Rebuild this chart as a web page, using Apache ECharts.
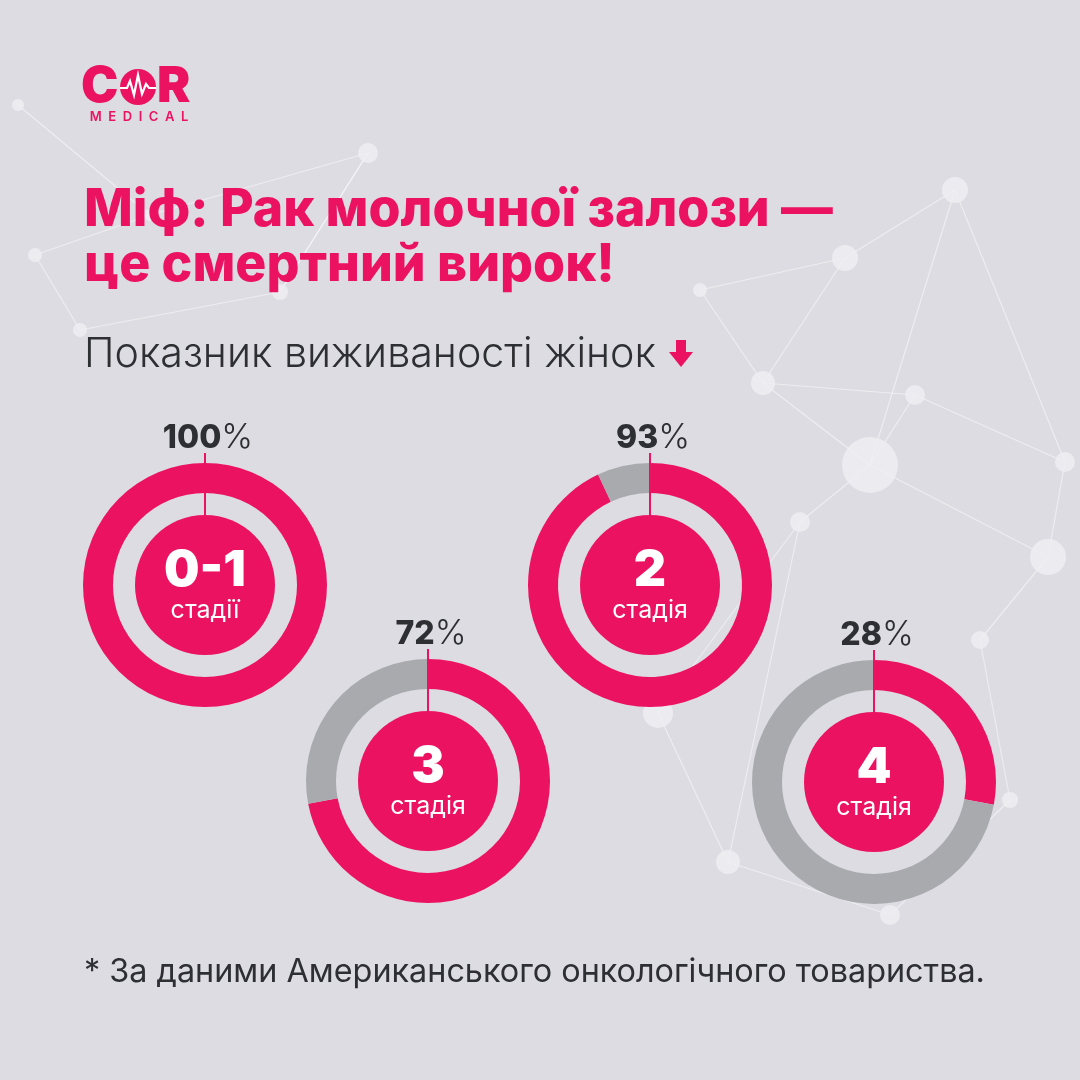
<!DOCTYPE html>
<html>
<head>
<meta charset="utf-8">
<script src="https://cdn.jsdelivr.net/npm/echarts@6/dist/echarts.min.js"></script>
<style>
html,body{margin:0;padding:0;background:#dcdce2;}
#chart{width:1080px;height:1080px;}
</style>
</head>
<body>
<div id="chart"></div>
<script>
// ---- data ----
var stages = ['0-1', '2', '3', '4'];
var stageWords = ['стадії', 'стадія', 'стадія', 'стадія'];
var survival = [100, 93, 72, 28];
var titleLines = ['Міф: Рак молочної залози —', 'це смертний вирок!'];
var subtitleText = 'Показник виживаності жінок';
var footnoteText = '* За даними Американського онкологічного товариства.';

// ---- layout / style ----
var centers = [[205, 585], [650, 585], [428, 781], [874, 782]];
var PINK = '#ec1262';
var GRAY = '#a9aaae';
var DARK = '#2e2f33';
var BG = '#dcdce2';
var FONT = 'Inter, "Noto Sans", sans-serif';

function fitSize(text, weight, family, target) {
  var c = document.createElement('canvas').getContext('2d');
  c.font = weight + ' 100px ' + family;
  var w = c.measureText(text).width;
  return 100 * target / w;
}

var chart = echarts.init(document.getElementById('chart'));

var series = [];
var graphics = [];

// background network decoration
var nodes = [[368,153,10],[955,190,13],[845,258,13],[763,383,12],[915,395,10],[870,465,28],[1048,557,18],[800,522,10],[1065,462,10],[658,713,15],[728,862,12],[890,915,10],[18,105,6],[80,330,7],[280,292,8],[150,215,6],[35,255,7],[980,640,9],[1010,800,8],[700,290,7]];
var links = [[0,14],[0,15],[15,12],[15,16],[16,13],[13,14],[14,0],[1,2],[2,3],[3,4],[4,5],[5,1],[3,5],[5,7],[7,9],[5,6],[6,8],[8,4],[6,17],[17,18],[9,10],[10,11],[11,18],[3,19],[19,2],[7,10],[1,8]];
links.forEach(function (l) {
  var a = nodes[l[0]], b = nodes[l[1]];
  graphics.push({type:'line', silent:true, z:-10, shape:{x1:a[0],y1:a[1],x2:b[0],y2:b[1]}, style:{stroke:'rgba(255,255,255,0.5)', lineWidth:1.2}});
});
nodes.forEach(function (n) {
  graphics.push({type:'circle', silent:true, z:-9, shape:{cx:n[0],cy:n[1],r:n[2]}, style:{fill:'rgba(238,238,242,0.85)'}});
});

stages.forEach(function (s, i) {
  var c = centers[i];
  series.push({
    type: 'pie', silent: true, center: c, radius: [92, 122], startAngle: 90, clockwise: true,
    label: {show: false}, labelLine: {show: false}, z: 2,
    data: [
      {value: survival[i], itemStyle: {color: PINK}},
      {value: 100 - survival[i], itemStyle: {color: GRAY}}
    ]
  });
  series.push({
    type: 'pie', silent: true, center: c, radius: [0, 70], z: 3,
    labelLine: {show: false},
    label: {
      show: true, position: 'center',
      formatter: '{a|' + s + '}\n{b|' + stageWords[i] + '}',
      rich: {
        a: {fontFamily: FONT, fontWeight: 900, fontSize: 50, color: '#fff', lineHeight: 50, padding:[6,0,0,0]},
        b: {fontFamily: FONT, fontWeight: 400, fontSize: 25, color: '#fff', lineHeight: 34}
      }
    },
    data: [{value: 1, itemStyle: {color: PINK}}]
  });
  graphics.push({type:'line', silent:true, z:20, shape:{x1:c[0], y1:c[1]-132, x2:c[0], y2:c[1]-69}, style:{stroke:PINK, lineWidth:2}});
  graphics.push({type:'text', silent:true, z:20, x:c[0] + 3, y:c[1]-147, style:{
    text: '{n|' + survival[i] + '}{p|%}', align:'center', verticalAlign:'middle',
    rich: {n:{fontFamily:FONT, fontWeight:800, fontSize:32, fill:DARK}, p:{fontFamily:FONT, fontWeight:300, fontSize:34, fill:DARK}}
  }});
});

// title
var tSize = fitSize(titleLines[0], 800, FONT, 749);
graphics.push({type:'text', x:84, y:210, style:{text:titleLines[0], fill:PINK, font:'800 ' + tSize + 'px ' + FONT, verticalAlign:'middle'}});
graphics.push({type:'text', x:84, y:265, style:{text:titleLines[1], fill:PINK, font:'800 ' + tSize + 'px ' + FONT, verticalAlign:'middle'}});
// subtitle
var sSize = fitSize(subtitleText, 300, FONT, 572);
graphics.push({type:'text', x:84, y:355, style:{text:subtitleText, fill:DARK, font:'300 ' + sSize + 'px ' + FONT, verticalAlign:'middle'}});
// arrow
graphics.push({type:'rect', shape:{x:676, y:340, width:10, height:14}, style:{fill:PINK}});
graphics.push({type:'polygon', shape:{points:[[669,352],[693,352],[681,367]]}, style:{fill:PINK}});
// footnote
var fSize = fitSize(footnoteText, 400, FONT, 901);
graphics.push({type:'text', x:84, y:972, style:{text:footnoteText, fill:DARK, font:'400 ' + fSize + 'px ' + FONT, verticalAlign:'middle'}});

// logo
graphics.push({type:'text', x:81, y:87, style:{text:'C', fill:PINK, font:'900 50px ' + FONT, verticalAlign:'middle'}});
graphics.push({type:'circle', shape:{cx:138, cy:87, r:18}, style:{fill:PINK}});
graphics.push({type:'polyline', shape:{points:[[120,88],[127,88],[130,81],[134,95],[138,75],[142,94],[146,84],[149,88],[156,88]]}, style:{stroke:'#fff', lineWidth:2.2, fill:null}});
graphics.push({type:'text', x:157, y:87, style:{text:'R', fill:PINK, font:'900 50px ' + FONT, verticalAlign:'middle'}});
graphics.push({type:'text', x:139, y:117, style:{text:'M  E  D  I  C  A  L', fill:PINK, font:'600 13px ' + FONT, align:'center', verticalAlign:'middle'}});

chart.setOption({
  backgroundColor: BG,
  animation: false,
  series: series,
  graphic: graphics
});
</script>
</body>
</html>
